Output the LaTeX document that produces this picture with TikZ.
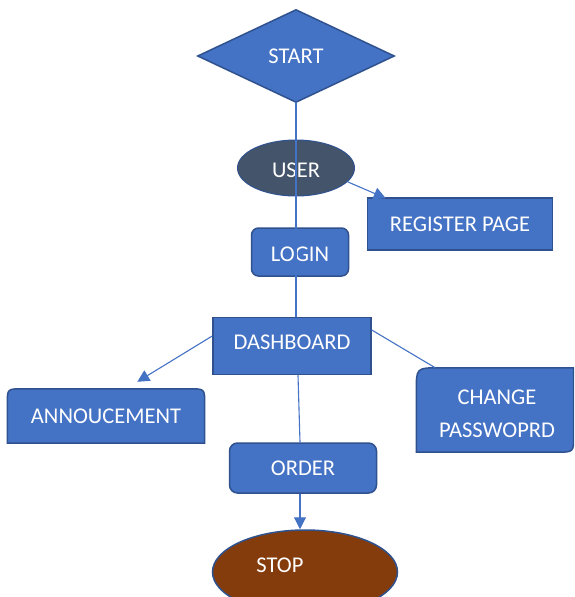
\documentclass[tikz,border=0pt]{standalone}
\usepackage{fontspec}
\setmainfont{Carlito}
\usetikzlibrary{shapes.geometric,arrows.meta}
\definecolor{boxblue}{HTML}{4472C4}
\definecolor{edgeblue}{HTML}{2F528F}
\definecolor{slate}{HTML}{44546A}
\definecolor{rust}{HTML}{843C0C}

\begin{document}
\begin{tikzpicture}[x=1pt,y=-1pt,
  every node/.style={font=\fontsize{22.5}{33}\selectfont, text=white},
  shapefill/.style={fill=boxblue, draw=edgeblue, line width=1.5pt},
  plainbox/.style={rectangle, inner sep=0pt},
  link/.style={draw=boxblue, line width=1.1pt},
  arr/.style={link, -{Triangle[length=12pt,width=12pt]}},
]
\useasboundingbox (0,0) rectangle (574,597);
\clip (0,0) rectangle (574,597);

% flow steps
\node[diamond, shapefill, minimum width=197pt, minimum height=93pt, inner sep=0pt] (start) at (296,56) {START};
\node[ellipse, fill=slate, draw=edgeblue, line width=1pt, minimum width=117pt, minimum height=56pt, inner sep=0pt, text height=20pt] (user) at (296,168) {USER};
\node[plainbox, shapefill, minimum width=185pt, minimum height=52pt] (reg) at (460,224) {REGISTER PAGE};
\node[plainbox, shapefill, rounded corners=7pt, minimum width=97pt, minimum height=48pt, text height=20pt] (login) at (300,252) {LOGIN};
\node[plainbox, shapefill, minimum width=158pt, minimum height=57pt, text depth=8pt] (dash) at (292,346) {DASHBOARD};

% announcement box: rounded top corners only
\node[plainbox, minimum width=197pt, minimum height=54pt] (ann) at (106,416) {};
\path[shapefill] (ann.south west)
  -- ([yshift=-15pt]ann.north west) .. controls (ann.north west) .. ([xshift=15pt]ann.north west)
  -- ([xshift=-15pt]ann.north east) .. controls (ann.north east) .. ([yshift=-15pt]ann.north east)
  -- (ann.south east) -- cycle;
\node at (ann.center) {ANNOUCEMENT};

% change-password box: rounded top-left and bottom-right corners
\node[plainbox, minimum width=157pt, minimum height=84pt] (chg) at (495,410) {};
\path[shapefill] (chg.south west)
  -- ([yshift=-23pt]chg.north west) .. controls (chg.north west) .. ([xshift=23pt]chg.north west)
  -- (chg.north east)
  -- ([yshift=17pt]chg.south east) .. controls (chg.south east) .. ([xshift=-17pt]chg.south east)
  -- cycle;
\node[align=center] at ([xshift=2pt,yshift=-4pt]chg.center) {CHANGE\\PASSWOPRD};

\node[plainbox, shapefill, rounded corners=8pt, minimum width=147pt, minimum height=50pt] (order) at (303,468) {ORDER};
\node[ellipse, fill=rust, draw=edgeblue, line width=1.5pt, minimum width=185pt, minimum height=84pt, inner sep=0pt,
      label={[xshift=-25pt,yshift=7pt]center:STOP}] (stop) at (305,572) {};

% connectors
\draw[link] ([yshift=1pt]start.south) -- ([xshift=4pt]dash.north);
\draw[arr] (user.-15) -- ([xshift=19pt,yshift=-1pt]reg.north west);
\draw[arr] ([yshift=10pt]dash.west) -- ([xshift=130pt,yshift=7pt]ann.north west);
\draw[link] ([yshift=16pt]dash.east) -- ([xshift=19pt]chg.north west);
\draw[link] ([xshift=6pt]dash.south) -- ([xshift=-3pt]order.north);
\draw[arr] ([xshift=-3pt]order.south) -- ([xshift=-5pt]stop.north);
\end{tikzpicture}
\end{document}
